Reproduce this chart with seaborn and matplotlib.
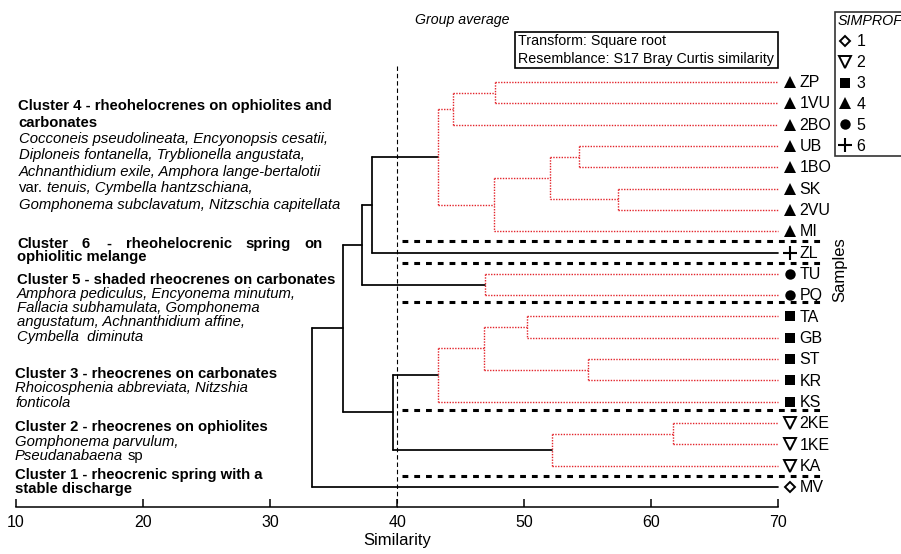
import pandas as pd
import matplotlib.pyplot as plt
from matplotlib.lines import Line2D
from matplotlib.patches import Rectangle
import seaborn as sns

# ---------------------------
# data
# ---------------------------
leaves = ["ZP", "1VU", "2BO", "UB", "1BO", "SK", "2VU", "MI", "ZL", "TU", "PQ",
          "TA", "GB", "ST", "KR", "KS", "2KE", "1KE", "KA", "MV"]
groups = [4, 4, 4, 4, 4, 4, 4, 4, 6, 5, 5, 3, 3, 3, 3, 3, 2, 2, 2, 1]

# merge k creates node "n{k+1}"
merge_left = ["ZP", "n1", "UB", "SK", "n3", "n5", "n2", "n7", "TU", "n8",
              "TA", "ST", "n11", "n13", "2KE", "n15", "n14", "n10", "n18"]
merge_right = ["1VU", "2BO", "1BO", "2VU", "n4", "MI", "n6", "ZL", "PQ", "n9",
               "GB", "KR", "n12", "KS", "1KE", "KA", "n16", "n17", "MV"]
merge_sim = [47.7, 44.4, 54.3, 57.4, 52.0, 47.6, 43.2, 38.0, 46.9, 37.2,
             50.2, 55.0, 46.8, 43.2, 61.7, 52.2, 39.7, 35.7, 33.3]
merge_sig = [1, 1, 1, 1, 1, 1, 1, 0, 1, 0, 1, 1, 1, 1, 1, 1, 0, 0, 0]

cut_level = 40
group_ids = [1, 2, 3, 4, 5, 6]

# ---------------------------
# build dendrogram segments
# ---------------------------
pos = {name: (70.0, i) for i, name in enumerate(leaves)}
rows = []
for k, (l, r, h, sig) in enumerate(zip(merge_left, merge_right, merge_sim, merge_sig)):
    xl, yl = pos[l]
    xr, yr = pos[r]
    kind = "sig" if sig else "ns"
    for s, (pa, pb) in enumerate([((h, yl), (h, yr)), ((h, yl), (xl, yl)), ((h, yr), (xr, yr))]):
        seg = f"{k}_{s}"
        rows.append({"seg": seg, "x": pa[0], "y": pa[1], "kind": kind})
        rows.append({"seg": seg, "x": pb[0], "y": pb[1], "kind": kind})
    pos[f"n{k + 1}"] = (h, (yl + yr) / 2)
segs = pd.DataFrame(rows)

sns.set_theme(style="white")
plt.rcParams["font.family"] = ["Liberation Sans", "DejaVu Sans"]
plt.rcParams["text.color"] = "black"
plt.rcParams["axes.labelcolor"] = "black"

W, H = 901, 554
fig = plt.figure(figsize=(W / 100, H / 100), dpi=100)


def fx(x):
    return x / W


def fy(y):
    return 1 - y / H


top_px, bot_px = 20, 507
ax = fig.add_axes([fx(16), fy(bot_px), (778.3 - 16) / W, (bot_px - top_px) / H])
step = 21.316
ax.set_xlim(10, 70)
ax.set_ylim((bot_px - 82) / step, (top_px - 82) / step)

sns.lineplot(data=segs[segs.kind == "ns"], x="x", y="y", units="seg", estimator=None,
             sort=False, color="black", lw=1.25, ax=ax, legend=False)
sns.lineplot(data=segs[segs.kind == "sig"], x="x", y="y", units="seg", estimator=None,
             sort=False, color="#e3242b", lw=1.0, dashes=(1, 1), ax=ax, legend=False)
for ln in ax.lines:
    ln.set_clip_on(False)

# similarity cut
ax.vlines(cut_level, (66 - 82) / step, (bot_px - 82) / step, color="black", lw=0.8,
          linestyles=[(0, (4, 2.6))], clip_on=False)

# cluster separators
for yy in [7.45, 8.5, 10.3, 15.4, 18.5]:
    ax.hlines(yy, 40.35, 73.5, color="black", lw=2.2, linestyles=[(0, (1.9, 1.95))],
              clip_on=False)

# leaf markers
mk = {1: dict(marker="D", ms=5.2, mfc="white", mew=1.4),
      2: dict(marker="v", ms=8, mfc="white", mew=1.4),
      3: dict(marker="s", ms=7, mfc="black", mew=0),
      4: dict(marker="^", ms=8.8, mfc="black", mew=0),
      5: dict(marker="o", ms=7.5, mfc="black", mew=0),
      6: dict(marker="+", ms=10, mew=1.5)}
leaf_df = pd.DataFrame({"leaf": leaves, "group": groups, "idx": range(len(leaves))})
for g, d in leaf_df.groupby("group"):
    ax.plot([70.9] * len(d), d["idx"], ls="none", color="black", clip_on=False, **mk[g])
for name, i in zip(leaves, range(len(leaves))):
    ax.text(71.65, i + 0.03, name, fontsize=11.5, va="center", ha="left", clip_on=False)

# axes styling
for sp in ["top", "left", "right"]:
    ax.spines[sp].set_visible(False)
ax.spines["bottom"].set_linewidth(1.1)
ax.spines["bottom"].set_color("black")
ax.set_yticks([])
ax.set_ylabel("")
ax.set_xticks([10, 20, 30, 40, 50, 60, 70])
ax.tick_params(axis="x", direction="in", length=6, width=1.1, pad=6, labelsize=11.5,
               colors="black", bottom=True)
ax.set_xlabel("Similarity", fontsize=12, labelpad=2, color="black")
ax.set_facecolor("none")

# header texts
fig.text(fx(415), fy(20), "Group average", fontsize=10.2, style="italic", va="center")
fig.add_artist(Rectangle((fx(515), fy(68)), (778 - 515) / W, 36 / H, transform=fig.transFigure,
                         fill=False, ec="black", lw=1.2))
fig.text(fx(518.5), fy(41), "Transform: Square root", fontsize=10.3, va="center")
fig.text(fx(518.5), fy(59), "Resemblance: S17 Bray Curtis similarity", fontsize=10.3, va="center")
fig.text(fx(840), fy(270), "Samples", rotation=90, fontsize=12, ha="center", va="center")

# legend
handles = [Line2D([], [], ls="none", color="black", **mk[g]) for g in group_ids]
leg = ax.legend(handles, [str(g) for g in group_ids], title="SIMPROF", loc="upper left",
                bbox_to_anchor=(fx(835), fy(12)), bbox_transform=fig.transFigure,
                frameon=True, fancybox=False, edgecolor="black", fontsize=11.5,
                title_fontsize=10.3, borderpad=0.15, labelspacing=0.37, handlelength=0.9,
                handletextpad=0.3, borderaxespad=0, alignment="left")
leg.get_title().set_fontstyle("italic")
leg.get_frame().set_linewidth(1.2)

# cluster descriptions
FS = 10.7


def line(x, y, parts):
    last = None
    for txt, st, wt in parts:
        if last is None:
            last = fig.text(fx(x), fy(y), txt, fontsize=FS, style=st, weight=wt, va="center")
        else:
            last = ax.annotate(txt, xy=(1, 0), xycoords=last, xytext=(3, 0),
                               textcoords="offset points", fontsize=FS, style=st,
                               weight=wt, va="bottom", ha="left")


B = ("normal", "bold")
I = ("italic", "normal")
R = ("normal", "normal")

line(18, 106, [("Cluster 4 - rheohelocrenes on ophiolites and",) + B])
line(18, 123, [("carbonates",) + B])
line(19, 139, [("Cocconeis pseudolineata, Encyonopsis cesatii,",) + I])
line(19, 155, [("Diploneis fontanella, Tryblionella angustata,",) + I])
line(19, 172, [("Achnanthidium exile, Amphora lange-bertalotii",) + I])
line(19, 188, [("var.",) + R, ("tenuis, Cymbella hantzschiana,",) + I])
line(19, 205, [("Gomphonema subclavatum, Nitzschia capitellata",) + I])

for wx, word in zip([17, 82, 106, 126, 245, 304],
                    ["Cluster", "6", "-", "rheohelocrenic", "spring", "on"]):
    line(wx, 244, [(word,) + B])
line(17, 257, [("ophiolitic melange",) + B])

line(17, 280, [("Cluster 5 - shaded rheocrenes on carbonates",) + B])
line(17, 294, [("Amphora pediculus, Encyonema minutum,",) + I])
line(17, 308, [("Fallacia subhamulata, Gomphonema",) + I])
line(17, 322, [("angustatum, Achnanthidium affine,",) + I])
line(17, 337, [("Cymbella  diminuta",) + I])

line(15, 374, [("Cluster 3 - rheocrenes on carbonates",) + B])
line(15, 388, [("Rhoicosphenia abbreviata, Nitzshia",) + I])
line(15, 403, [("fonticola",) + I])

line(15, 427, [("Cluster 2 - rheocrenes on ophiolites",) + B])
line(15, 442, [("Gomphonema parvulum,",) + I])
line(15, 456, [("Pseudanabaena",) + I, ("sp",) + R])

line(15, 475, [("Cluster 1 - rheocrenic spring with a",) + B])
line(15, 489, [("stable discharge",) + B])

fig.savefig("out.png", dpi=100)
